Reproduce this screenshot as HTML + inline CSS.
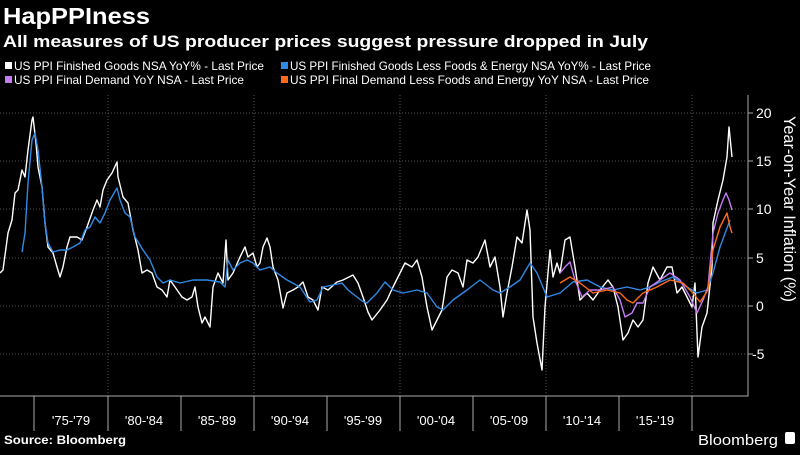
<!DOCTYPE html>
<html><head><meta charset="utf-8"><style>
html,body{margin:0;padding:0;background:#000;}
body{width:800px;height:450px;overflow:hidden;font-family:"Liberation Sans Narrow","Liberation Sans",sans-serif;}
</style></head><body>
<svg width="800" height="450" viewBox="0 0 800 450" xmlns="http://www.w3.org/2000/svg" font-family="Liberation Sans Narrow, Liberation Sans, sans-serif">
<rect width="800" height="450" fill="#000"/>
<text x="3" y="24" fill="#fff" font-size="23" font-weight="bold" font-family="Liberation Sans, sans-serif" textLength="147" lengthAdjust="spacingAndGlyphs">HapPPIness</text>
<text x="3" y="47" fill="#fff" font-size="17" font-weight="bold" font-family="Liberation Sans, sans-serif" textLength="645" lengthAdjust="spacingAndGlyphs">All measures of US producer prices suggest pressure dropped in July</text>
<g font-size="12" fill="#fff">
<rect x="5" y="62" width="7" height="7" fill="#fff"/><text x="14" y="70" textLength="250" lengthAdjust="spacingAndGlyphs">US PPI Finished Goods NSA YoY% - Last Price</text>
<rect x="281" y="62" width="7" height="7" fill="#2f8ae6"/><text x="290" y="70" textLength="361" lengthAdjust="spacingAndGlyphs">US PPI Finished Goods Less Foods &amp; Energy NSA YoY% - Last Price</text>
<rect x="5" y="76" width="7" height="7" fill="#c37cf2"/><text x="14" y="84" textLength="230" lengthAdjust="spacingAndGlyphs">US PPI Final Demand YoY NSA - Last Price</text>
<rect x="281" y="76" width="7" height="7" fill="#ff6a1a"/><text x="290" y="84" textLength="359" lengthAdjust="spacingAndGlyphs">US PPI Final Demand Less Foods and Energy YoY NSA - Last Price</text>
</g>
<g stroke="#555" stroke-width="1" stroke-dasharray="1,2">
<line x1="0" x2="747" y1="113" y2="113"/><line x1="0" x2="747" y1="161" y2="161"/>
<line x1="0" x2="747" y1="209" y2="209"/><line x1="0" x2="747" y1="258" y2="258"/>
<line x1="0" x2="747" y1="306" y2="306"/><line x1="0" x2="747" y1="354" y2="354"/>
<line x1="108" x2="108" y1="95" y2="395"/><line x1="254" x2="254" y1="95" y2="395"/>
<line x1="400" x2="400" y1="95" y2="395"/><line x1="546" x2="546" y1="95" y2="395"/>
<line x1="692" x2="692" y1="95" y2="395"/>
</g>
<g stroke="#aaa" stroke-width="1" fill="none">
<polyline points="0,396 748,396 748,95"/>
<line x1="748" x2="753" y1="113" y2="113"/><line x1="748" x2="753" y1="161" y2="161"/>
<line x1="748" x2="753" y1="209" y2="209"/><line x1="748" x2="753" y1="258" y2="258"/>
<line x1="748" x2="753" y1="306" y2="306"/><line x1="748" x2="753" y1="354" y2="354"/>
<line x1="34" x2="34" y1="396" y2="431"/><line x1="108" x2="108" y1="396" y2="431"/>
<line x1="181" x2="181" y1="396" y2="431"/><line x1="254" x2="254" y1="396" y2="431"/>
<line x1="327" x2="327" y1="396" y2="431"/><line x1="400" x2="400" y1="396" y2="431"/>
<line x1="473" x2="473" y1="396" y2="431"/><line x1="546" x2="546" y1="396" y2="431"/>
<line x1="619" x2="619" y1="396" y2="431"/><line x1="692" x2="692" y1="396" y2="431"/>
</g>
<g fill="#fff" font-size="14">
<text x="756" y="118">20</text><text x="756" y="166">15</text><text x="756" y="214">10</text>
<text x="756" y="263">5</text><text x="756" y="311">0</text><text x="752" y="359">-5</text>
</g>
<text transform="translate(784,116) rotate(90)" fill="#fff" font-size="17" textLength="186" lengthAdjust="spacingAndGlyphs">Year-on-Year Inflation (%)</text>
<g fill="#fff" font-size="13" text-anchor="middle">
<text x="71" y="425">'75-'79</text><text x="144" y="425">'80-'84</text><text x="217" y="425">'85-'89</text>
<text x="290" y="425">'90-'94</text><text x="363" y="425">'95-'99</text><text x="436" y="425">'00-'04</text>
<text x="509" y="425">'05-'09</text><text x="582" y="425">'10-'14</text><text x="655" y="425">'15-'19</text>
</g>
<text x="4" y="444" fill="#fff" font-size="12" font-weight="bold" font-family="Liberation Sans, sans-serif" textLength="122" lengthAdjust="spacingAndGlyphs">Source: Bloomberg</text>
<text x="698" y="445" fill="#fff" font-size="15" font-family="Liberation Sans, sans-serif" textLength="80" lengthAdjust="spacingAndGlyphs">Bloomberg</text>
<rect x="785" y="432" width="10" height="12" rx="2" fill="#fff"/>
<g fill="none" stroke-width="1.4" stroke-linejoin="round">
<polyline stroke="#fff" points="0,273 3,270 8,233 12,220 15,193 18,190 22,170 25,177 28,150 32,120 33,117 36,143 38,167 42,187 45,223 48,247 53,253 57,267 60,277 63,267 67,247 70,237 77,237 82,240 87,227 93,210 97,200 100,207 103,190 107,180 112,173 117,162 118,177 123,197 128,203 133,230 138,250 142,273 147,270 152,273 157,287 162,290 167,297 170,280 175,287 182,297 187,300 192,297 195,287 198,307 202,323 205,317 210,327 213,287 218,273 223,283 226,240 228,280 233,273 240,257 245,247 248,257 253,253 257,267 260,263 263,247 267,238 270,247 273,267 278,280 283,308 287,293 293,290 298,287 303,282 308,297 313,300 318,310 322,287 328,290 337,282 343,280 353,275 358,283 363,297 368,312 372,320 380,310 387,300 393,287 400,273 405,263 412,267 417,260 422,277 427,307 432,330 437,320 442,310 447,277 452,270 458,273 463,287 467,260 473,263 478,257 485,240 490,267 495,257 500,287 503,317 507,293 512,267 517,237 522,243 527,210 530,230 533,317 537,343 542,370 545,307 550,250 553,277 557,263 560,273 565,240 570,237 575,267 580,300 587,293 593,300 600,290 608,280 613,287 618,307 623,340 628,333 633,320 638,327 643,320 648,283 653,267 660,280 667,267 672,267 677,293 682,287 687,297 692,307 695,283 698,357 702,327 707,313 712,267 713,223 718,200 723,180 727,157 729,127 732,157"/>
<polyline stroke="#2f8ae6" points="22,252 25,233 28,183 32,140 35,133 38,150 42,187 45,223 48,243 53,252 60,250 67,250 73,247 80,243 85,230 90,227 95,217 100,223 105,213 110,200 117,188 120,200 125,213 130,217 135,237 143,250 150,260 157,277 163,283 170,280 180,283 193,280 207,280 220,282 225,287 228,260 233,270 240,263 247,260 253,263 260,270 270,267 277,273 287,280 300,287 310,302 317,300 323,287 333,285 342,283 348,290 357,297 362,301 367,303 377,293 385,282 393,290 403,293 417,290 427,293 437,307 443,310 453,300 467,290 480,280 493,290 500,293 510,287 520,280 530,263 537,273 547,297 560,293 573,282 587,280 600,287 613,290 627,287 640,290 650,287 660,282 673,277 687,287 697,293 707,290 713,273 720,247 730,220"/>
<polyline stroke="#c37cf2" points="560,273 565,267 570,262 575,280 582,297 590,290 600,290 613,287 620,300 625,317 632,313 637,303 643,303 650,287 660,280 670,273 680,280 690,297 697,313 703,300 708,287 713,233 718,213 723,200 726,193 729,200 732,210"/>
<polyline stroke="#ff6a1a" points="560,283 570,277 580,283 593,293 607,290 620,293 627,300 633,303 643,293 657,287 670,280 683,283 693,293 700,302 708,290 713,250 720,227 727,213 730,227 732,233"/>
</g>
</svg>
</body></html>
